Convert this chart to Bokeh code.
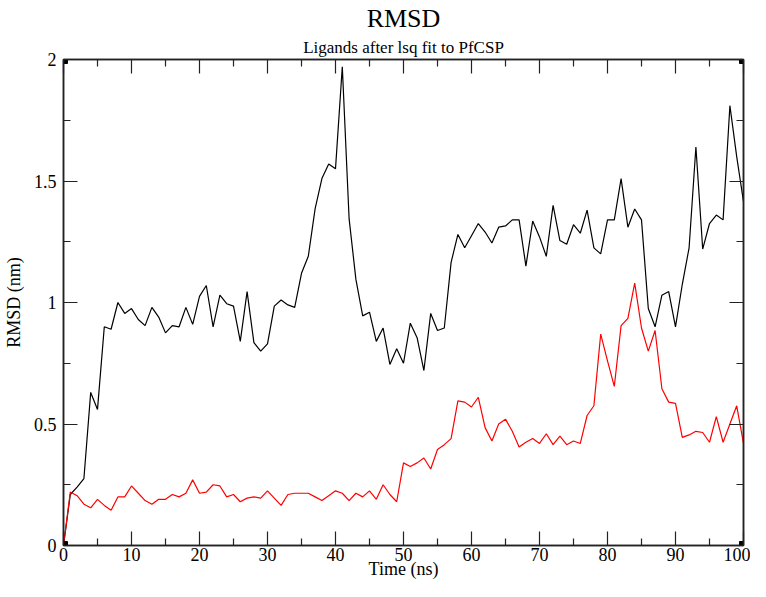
from bokeh.plotting import figure
from bokeh.models import Title, FixedTicker, LinearAxis, Range1d
from bokeh.embed import file_html
from bokeh.resources import INLINE

time_ns = list(range(0, 101))
rmsd_black = [0.0, 0.21, 0.24, 0.275, 0.63, 0.56, 0.90, 0.89, 1.0, 0.955,
              0.975, 0.93, 0.905, 0.98, 0.94, 0.875, 0.905, 0.90, 0.98, 0.91,
              1.025, 1.07, 0.90, 1.03, 0.995, 0.985, 0.84, 1.045, 0.835, 0.80,
              0.83, 0.985, 1.01, 0.99, 0.98, 1.12, 1.19, 1.385, 1.51, 1.57,
              1.55, 1.97, 1.345, 1.095, 0.945, 0.96, 0.84, 0.895, 0.745, 0.81,
              0.75, 0.915, 0.855, 0.72, 0.955, 0.885, 0.895, 1.165, 1.28, 1.225,
              1.275, 1.325, 1.29, 1.245, 1.31, 1.315, 1.34, 1.34, 1.15, 1.335,
              1.27, 1.19, 1.40, 1.255, 1.24, 1.32, 1.285, 1.38, 1.225, 1.20,
              1.34, 1.34, 1.51, 1.31, 1.385, 1.34, 0.975, 0.90, 1.03, 1.045,
              0.90, 1.075, 1.225, 1.64, 1.22, 1.325, 1.36, 1.34, 1.81, 1.60,
              1.415]
rmsd_red = [0.0, 0.22, 0.205, 0.17, 0.155, 0.19, 0.165, 0.145, 0.20, 0.20,
            0.245, 0.215, 0.185, 0.17, 0.19, 0.19, 0.21, 0.20, 0.215, 0.27,
            0.215, 0.22, 0.25, 0.245, 0.20, 0.21, 0.18, 0.195, 0.20, 0.195,
            0.225, 0.195, 0.165, 0.21, 0.215, 0.215, 0.215, 0.20, 0.185, 0.205,
            0.225, 0.215, 0.185, 0.215, 0.20, 0.225, 0.19, 0.25, 0.21, 0.18,
            0.34, 0.325, 0.34, 0.36, 0.315, 0.395, 0.415, 0.44, 0.595, 0.59,
            0.57, 0.61, 0.485, 0.43, 0.50, 0.52, 0.47, 0.405, 0.425, 0.44,
            0.42, 0.46, 0.415, 0.45, 0.415, 0.43, 0.42, 0.535, 0.575, 0.87,
            0.76, 0.655, 0.905, 0.935, 1.08, 0.895, 0.80, 0.885, 0.645, 0.59,
            0.585, 0.445, 0.455, 0.47, 0.465, 0.425, 0.53, 0.425, 0.50, 0.575,
            0.42]

x_range = (0, 100)
y_range = (0, 2)
x_major = [0, 10, 20, 30, 40, 50, 60, 70, 80, 90, 100]
x_minor = [5, 15, 25, 35, 45, 55, 65, 75, 85, 95]
y_major = [0, 0.5, 1, 1.5, 2]
y_minor = [0.25, 0.75, 1.25, 1.75]
y_labels = {0: "0", 0.5: "0.5", 1: "1", 1.5: "1.5", 2: "2"}

FONT = "Liberation Serif"

p = figure(width=750, height=581, output_backend="svg", toolbar_location=None,
           x_range=Range1d(*x_range), y_range=Range1d(*y_range),
           min_border_left=57, min_border_right=7, min_border_top=0, min_border_bottom=0,
           x_axis_label="Time (ns)", y_axis_label="RMSD (nm)")
p.title.visible = False
p.xgrid.visible = False
p.ygrid.visible = False
p.outline_line_color = "#222222"
p.outline_line_width = 1.5

xt = FixedTicker(ticks=x_major, minor_ticks=x_minor)
yt = FixedTicker(ticks=y_major, minor_ticks=y_minor)

def style_axis(ax, labels=True):
    ax.axis_line_color = "#222222"
    ax.axis_line_width = 1.5
    ax.major_tick_line_color = "#222222"
    ax.minor_tick_line_color = "#222222"
    ax.major_tick_line_width = 1.2
    ax.minor_tick_line_width = 1.2
    ax.major_tick_in = 14
    ax.major_tick_out = 0
    ax.minor_tick_in = 7
    ax.minor_tick_out = 0
    ax.major_label_text_font = FONT
    ax.major_label_text_color = "black"
    ax.axis_label_text_font = FONT
    ax.axis_label_text_font_style = "normal"
    ax.axis_label_text_font_size = "18px"
    ax.axis_label_text_color = "black"
    if labels:
        ax.major_label_text_font_size = "18px"
    else:
        ax.major_label_text_font_size = "0px"
        ax.major_label_text_color = None
        ax.major_label_standoff = 0

p.xaxis.ticker = xt
p.yaxis.ticker = yt
p.yaxis.major_label_overrides = y_labels
for ax in p.xaxis:
    style_axis(ax)
    ax.major_label_standoff = 2
    ax.axis_label_standoff = -5
for ax in p.yaxis:
    style_axis(ax)
    ax.major_label_standoff = 7
    ax.axis_label_standoff = 7

top = LinearAxis(ticker=FixedTicker(ticks=x_major, minor_ticks=x_minor))
right = LinearAxis(ticker=FixedTicker(ticks=y_major, minor_ticks=y_minor))
style_axis(top, labels=False)
style_axis(right, labels=False)
p.add_layout(top, "above")
p.add_layout(right, "right")

# invisible spacer axis between the frame and the subtitle
spacer = LinearAxis(ticker=FixedTicker(ticks=[], minor_ticks=[]))
spacer.axis_line_color = None
spacer.major_tick_line_color = None
spacer.minor_tick_line_color = None
spacer.major_tick_in = 0
spacer.major_tick_out = 13
spacer.minor_tick_in = 0
spacer.minor_tick_out = 0
spacer.major_label_text_font_size = "0px"
spacer.major_label_text_color = None
spacer.major_label_standoff = 0
p.add_layout(spacer, "above")

sub = Title(text="Ligands after lsq fit to PfCSP", align="center", text_font=FONT,
            text_font_size="17px", text_font_style="normal", text_color="black", standoff=5)
main = Title(text="RMSD", align="center", text_font=FONT,
             text_font_size="26px", text_font_style="normal", text_color="black", standoff=2)
p.add_layout(sub, "above")
p.add_layout(main, "above")

p.line(time_ns, rmsd_black, line_color="black", line_width=1.2)
p.line(time_ns, rmsd_red, line_color="red", line_width=1.2)

corner_x = [x_range[0], x_range[0], x_range[1], x_range[1]]
corner_y = [y_range[0], y_range[1], y_range[1], y_range[0]]
p.scatter(corner_x, corner_y, marker="square", size=8, fill_color="black", line_color="black")

open("out.html", "w").write(file_html(p, INLINE))
